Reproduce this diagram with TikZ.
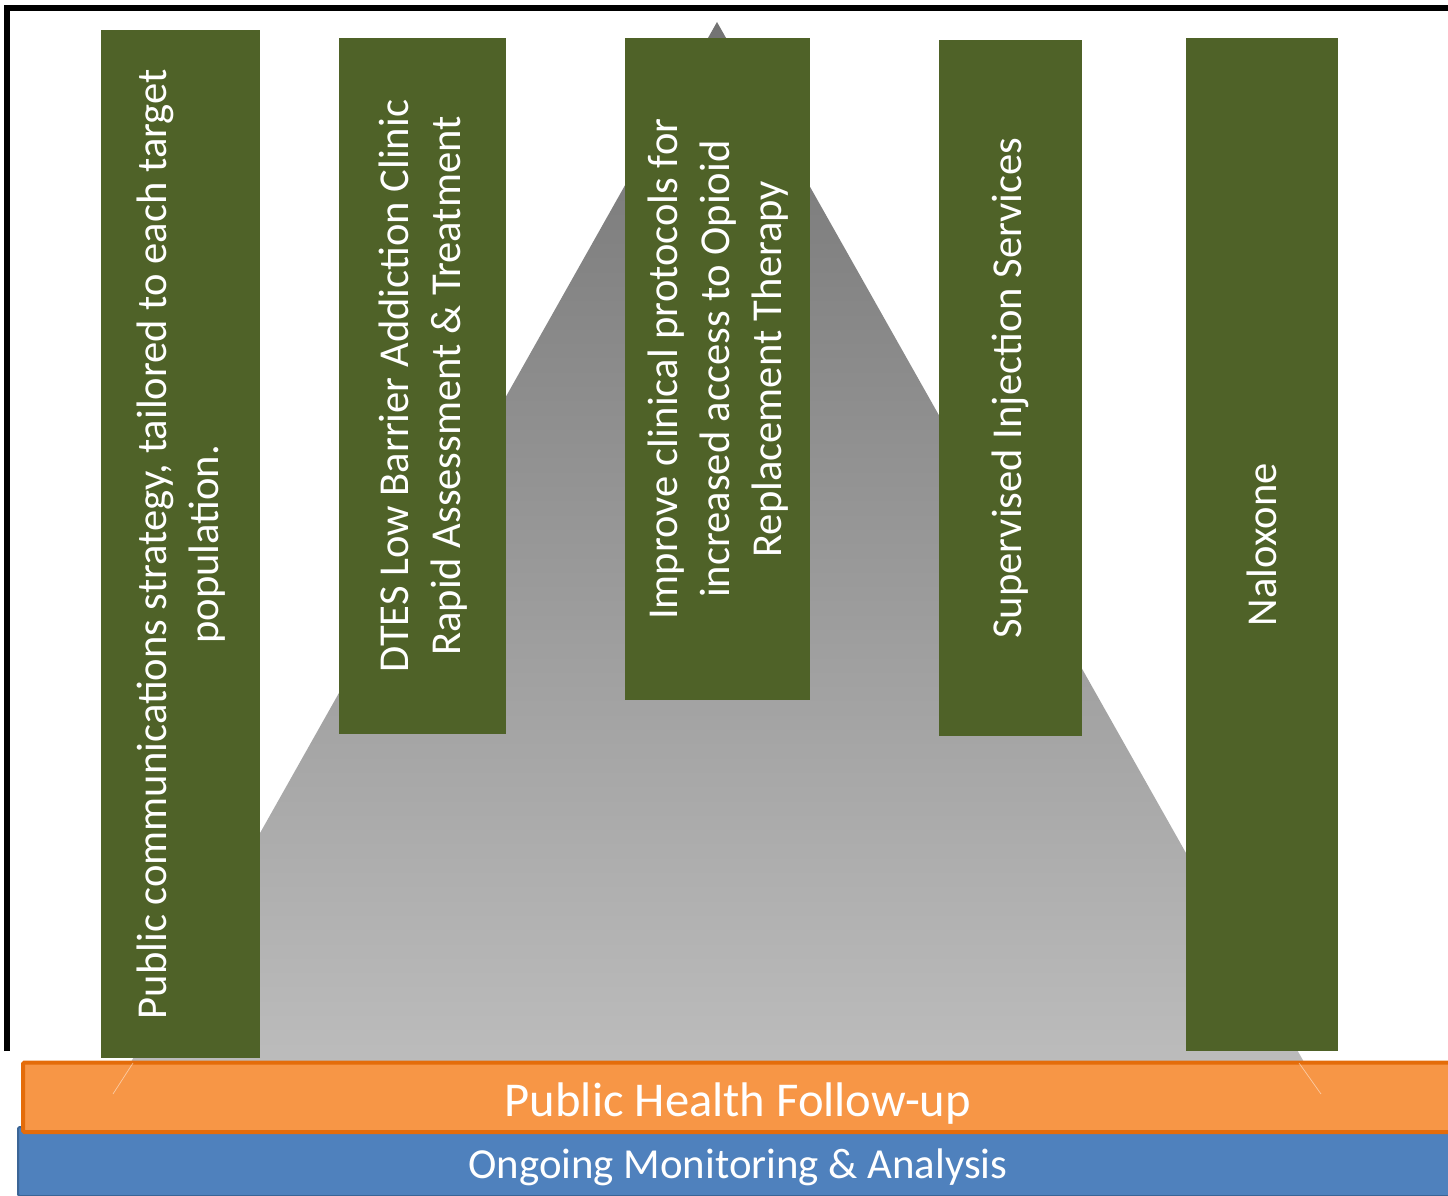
\documentclass[tikz,border=0pt]{standalone}
\usepackage{fontspec}
\setmainfont{Carlito}
\definecolor{boxgreen}{HTML}{4F6228}
\definecolor{barorange}{HTML}{F79646}
\definecolor{barorangedark}{HTML}{E46C0A}
\definecolor{barblue}{HTML}{4F81BD}
\definecolor{barbluedark}{HTML}{3B6596}
\definecolor{triTop}{HTML}{737373}
\definecolor{triBot}{HTML}{BEBEBE}
\begin{document}
\begin{tikzpicture}[x=1pt,y=-1pt,
  gbox/.style={fill=boxgreen, draw=none, inner sep=0pt, anchor=north west},
  gtext/.style={text=white, rotate=90, align=center, font=\fontsize{42.6}{52}\selectfont, inner sep=0pt},
  barbox/.style={anchor=north west, inner sep=0pt, rounded corners=1.5pt},
  bartext/.style={text=white, anchor=base, inner sep=0pt}]
\useasboundingbox (0,0) rectangle (1448,1196);
\fill[white] (0,0) rectangle (1448,1196);
% frame
\draw[line width=5.5pt, line join=miter] (7,1051) -- (7,8) -- (1455,8);
% triangle
\shade[top color=triTop, bottom color=triBot] (717,22) -- (1322,1094) -- (113,1094) -- cycle;
% green boxes
\node[gbox, minimum width=159pt, minimum height=1028pt] (b1) at (101,30) {};
\node[gtext] (t1) at (b1.center) {Public communications strategy, tailored to each target\\population.};
\node[gbox, minimum width=167pt, minimum height=696pt] (b2) at (339,38) {};
\node[gtext] (t2) at (b2.center) {DTES Low Barrier Addiction Clinic\\Rapid Assessment \& Treatment};
\node[gbox, minimum width=185pt, minimum height=662pt] (b3) at (625,38) {};
\node[gtext] (t3) at (b3.center) {Improve clinical protocols for\\increased access to Opioid\\Replacement Therapy};
\node[gbox, minimum width=143pt, minimum height=696pt] (b4) at (939,40) {};
\node[gtext] (t4) at (b4.center) {Supervised Injection Services};
\node[gbox, minimum width=152pt, minimum height=1013pt] (b5) at (1186,38) {};
\node[gtext] (t5) at (b5.center) {Naloxone};
% bottom bars
\node[barbox, draw=barbluedark, fill=barblue, line width=2pt, minimum width=1443pt, minimum height=69pt] (blue) at (17,1126) {};
\node[barbox, draw=barorangedark, fill=barorange, line width=4pt, minimum width=1439pt, minimum height=69.5pt] (orange) at (21,1060.5) {};
\draw[white, opacity=0.5, line width=0.7pt] (133,1063) -- (113,1094) (1299,1063) -- (1321,1094);
\node[bartext, font=\fontsize{48.6}{58}\selectfont] (phf) at (738,1116) {Public Health Follow-up};
\node[bartext, font=\fontsize{42.8}{52}\selectfont] (oma) at (738,1178) {Ongoing Monitoring \& Analysis};
\end{tikzpicture}
\end{document}
